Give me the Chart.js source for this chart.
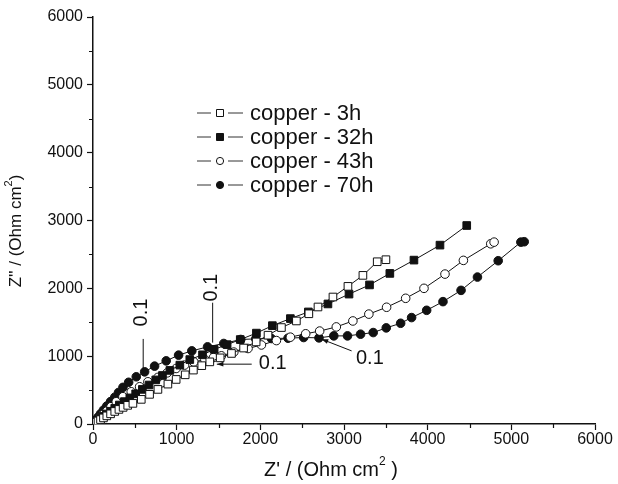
<!DOCTYPE html>
<html>
<head>
<meta charset="utf-8">
<script src="https://cdn.jsdelivr.net/npm/chart.js"></script>
<style>
  html, body { margin: 0; padding: 0; background: #fff; }
  canvas { display: block; }
</style>
</head>
<body>
<canvas id="chart" width="618" height="484"></canvas>
<script>
// series: Z' (real) and Z'' (imaginary), Ohm cm2
const labels = ['copper - 3h', 'copper - 32h', 'copper - 43h', 'copper - 70h'];

const re3h = [0, 15, 35, 60, 90, 125, 165, 210, 260, 310, 360, 415, 477, 577, 676, 776, 895, 994, 1102, 1200, 1300, 1396, 1520, 1655, 1800, 1950, 2092, 2252, 2431, 2580, 2689, 2868, 3047, 3226, 3397, 3501];
const im3h = [0, 12, 28, 45, 65, 90, 120, 150, 185, 215, 245, 275, 304, 363, 437, 510, 588, 657, 725, 795, 860, 916, 975, 1040, 1120, 1210, 1309, 1422, 1519, 1625, 1725, 1872, 2029, 2191, 2392, 2422];

const re32h = [0, 15, 35, 60, 90, 125, 165, 210, 260, 315, 375, 440, 510, 590, 670, 750, 830, 919, 1038, 1157, 1309, 1448, 1603, 1760, 1953, 2144, 2359, 2574, 2808, 3060, 3305, 3548, 3836, 4147, 4467];
const im32h = [0, 14, 32, 55, 82, 112, 148, 188, 232, 280, 330, 385, 445, 510, 575, 650, 715, 790, 868, 950, 1020, 1100, 1170, 1245, 1340, 1450, 1554, 1652, 1770, 1915, 2050, 2220, 2416, 2637, 2926];

const re43h = [0, 20, 45, 80, 120, 165, 215, 278, 358, 457, 557, 656, 776, 887, 994, 1094, 1205, 1337, 1440, 1535, 1683, 1853, 2013, 2192, 2359, 2542, 2709, 2908, 3106, 3297, 3509, 3737, 3956, 4207, 4427, 4754, 4794];
const im43h = [0, 25, 55, 95, 140, 190, 255, 328, 402, 475, 549, 622, 687, 754, 819, 868, 915, 950, 980, 1005, 1060, 1113, 1165, 1230, 1280, 1330, 1370, 1431, 1519, 1620, 1721, 1853, 2000, 2210, 2412, 2657, 2681];

const re70h = [0, 15, 35, 60, 90, 125, 165, 210, 260, 305, 358, 426, 517, 617, 736, 875, 1023, 1181, 1369, 1563, 1766, 1945, 2132, 2331, 2518, 2701, 2878, 3042, 3198, 3349, 3505, 3677, 3808, 3988, 4183, 4399, 4595, 4843, 5114, 5154];
const im70h = [0, 25, 60, 100, 150, 205, 265, 330, 395, 465, 540, 615, 696, 769, 853, 931, 1015, 1078, 1137, 1187, 1246, 1255, 1260, 1265, 1275, 1270, 1299, 1299, 1324, 1348, 1417, 1485, 1569, 1676, 1804, 1970, 2166, 2407, 2681, 2687];

const xTicks = [0, 1000, 2000, 3000, 4000, 5000, 6000];
const yTicks = [0, 1000, 2000, 3000, 4000, 5000, 6000];

// "0.1" frequency markers, in data units: text position, line start, line end
const freqNotes = [
  { text: '0.1', tx: 564, ty: 1643, rot: true,  x1: 600,  y1: 1254, x2: 600,  y2: 754,  arrow: false },
  { text: '0.1', tx: 1400, ty: 2009, rot: true, x1: 1430, y1: 1788, x2: 1430, y2: 1200, arrow: false },
  { text: '0.1', tx: 2148, ty: 906, rot: false, x1: 1897, y1: 882,  x2: 1480, y2: 882,  arrow: true },
  { text: '0.1', tx: 3309, ty: 979, rot: false, x1: 3091, y1: 1078, x2: 2733, y2: 1250, arrow: true }
];

const FONT = '"Liberation Sans", Arial, sans-serif';

function pts(xs, ys) {
  return xs.map((x, i) => ({ x: x, y: ys[i] }));
}

function series(label, xs, ys, style, filled) {
  return {
    label: label,
    data: pts(xs, ys),
    showLine: true,
    borderColor: '#111',
    borderWidth: 1,
    pointStyle: style,
    pointRadius: style === 'rect' ? 5.4 : 4.3,
    pointBorderWidth: 1,
    pointBorderColor: '#111',
    pointBackgroundColor: filled ? '#111' : '#fff',
    fill: false
  };
}

// draws "main" + superscript 2 + "tail", centred on (0,0) of the current transform
function supText(ctx, main, tail, size) {
  ctx.font = size + 'px ' + FONT;
  const w1 = ctx.measureText(main).width;
  const w3 = ctx.measureText(tail).width;
  ctx.font = Math.round(size * 0.62) + 'px ' + FONT;
  const w2 = ctx.measureText('2').width;
  let x = -(w1 + w2 + w3) / 2;
  ctx.textAlign = 'left';
  ctx.textBaseline = 'middle';
  ctx.font = size + 'px ' + FONT;
  ctx.fillText(main, x, 0);
  x += w1;
  ctx.font = Math.round(size * 0.62) + 'px ' + FONT;
  ctx.fillText('2', x, -size * 0.4);
  x += w2;
  ctx.font = size + 'px ' + FONT;
  ctx.fillText(tail, x, 0);
}

const decorPlugin = {
  id: 'decor',
  afterDraw(chart) {
    const ctx = chart.ctx;
    const xs = chart.scales.x, ys = chart.scales.y;
    ctx.save();
    ctx.fillStyle = '#111';
    ctx.strokeStyle = '#111';
    // minor ticks (shorter)
    ctx.lineWidth = 1.2;
    ctx.beginPath();
    for (let v = 500; v < 6000; v += 1000) {
      const px = Math.round(xs.getPixelForValue(v)) + 0.5;
      ctx.moveTo(px, xs.top); ctx.lineTo(px, xs.top + 4);
      const py = Math.round(ys.getPixelForValue(v)) + 0.5;
      ctx.moveTo(ys.right, py); ctx.lineTo(ys.right - 4, py);
    }
    ctx.stroke();
    // axis titles
    ctx.translate((xs.left + xs.right) / 2 - 13, 470);
    supText(ctx, "Z' / (Ohm cm", " )", 20);
    ctx.setTransform(1, 0, 0, 1, 0, 0);
    ctx.translate(16, 231);
    ctx.rotate(-Math.PI / 2);
    supText(ctx, "Z'' / (Ohm cm", ")", 17);
    ctx.restore();
  }
};

// legend drawn like the original: line - marker - line, then text
const legendPlugin = {
  id: 'lineLegend',
  afterDatasetsDraw(chart) {
    const ctx = chart.ctx;
    const rows = [113, 137, 161, 185];
    ctx.save();
    chart.data.datasets.forEach((ds, i) => {
      const y = rows[i];
      ctx.strokeStyle = '#333';
      ctx.lineWidth = 1;
      ctx.beginPath();
      ctx.moveTo(197, y); ctx.lineTo(211, y);
      ctx.moveTo(228, y); ctx.lineTo(243, y);
      ctx.stroke();
      ctx.fillStyle = ds.pointBackgroundColor;
      ctx.strokeStyle = '#111';
      ctx.beginPath();
      if (ds.pointStyle === 'rect') ctx.rect(216.5, y - 3.5, 7, 7);
      else ctx.arc(220, y, 3.6, 0, Math.PI * 2);
      ctx.fill(); ctx.stroke();
      ctx.fillStyle = '#111';
      ctx.font = '22px ' + FONT;
      ctx.textAlign = 'left';
      ctx.textBaseline = 'middle';
      ctx.fillText(ds.label, 250, y + 1);
    });
    ctx.restore();
  }
};

const notesPlugin = {
  id: 'freqNotes',
  afterDatasetsDraw(chart) {
    const ctx = chart.ctx;
    const xs = chart.scales.x, ys = chart.scales.y;
    ctx.save();
    ctx.strokeStyle = '#111';
    ctx.fillStyle = '#111';
    ctx.lineWidth = 1;
    freqNotes.forEach(n => {
      const x1 = xs.getPixelForValue(n.x1), y1 = ys.getPixelForValue(n.y1);
      const x2 = xs.getPixelForValue(n.x2), y2 = ys.getPixelForValue(n.y2);
      ctx.beginPath();
      ctx.moveTo(x1, y1); ctx.lineTo(x2, y2);
      ctx.stroke();
      if (n.arrow) {
        const a = Math.atan2(y2 - y1, x2 - x1);
        ctx.beginPath();
        ctx.moveTo(x2, y2);
        ctx.lineTo(x2 - 7 * Math.cos(a - 0.35), y2 - 7 * Math.sin(a - 0.35));
        ctx.lineTo(x2 - 7 * Math.cos(a + 0.35), y2 - 7 * Math.sin(a + 0.35));
        ctx.closePath();
        ctx.fill();
      }
      const tx = xs.getPixelForValue(n.tx), ty = ys.getPixelForValue(n.ty);
      ctx.font = '20px ' + FONT;
      ctx.textAlign = 'center';
      ctx.textBaseline = 'middle';
      ctx.translate(tx, ty);
      if (n.rot) ctx.rotate(-Math.PI / 2);
      ctx.fillText(n.text, 0, 1);
      ctx.setTransform(1, 0, 0, 1, 0, 0);
    });
    ctx.restore();
  }
};

const axisCommon = {
  type: 'linear',
  min: 0,
  max: 6000,
  border: { display: true, color: '#111', width: 1.5 },
  grid: {
    drawOnChartArea: false, drawTicks: true, tickLength: 6, tickWidth: 1.2,
    tickColor: c => (c.tick && c.tick.value % 1000 === 0 ? '#111' : 'rgba(0,0,0,0)')
  },
  ticks: {
    stepSize: 500,
    autoSkip: false,
    color: '#111',
    font: { family: FONT, size: 16 },
    callback: v => (v % 1000 === 0 ? String(v) : '')
  }
};

new Chart(document.getElementById('chart'), {
  type: 'scatter',
  data: {
    datasets: [
      series(labels[0], re3h, im3h, 'rect', false),
      series(labels[1], re32h, im32h, 'rect', true),
      series(labels[2], re43h, im43h, 'circle', false),
      series(labels[3], re70h, im70h, 'circle', true)
    ]
  },
  options: {
    responsive: false,
    animation: false,
    devicePixelRatio: 1,
    layout: { padding: { top: 17, right: 23, left: 0, bottom: 0 } },
    plugins: { legend: { display: false }, tooltip: { enabled: false } },
    scales: {
      x: Object.assign({}, axisCommon, {
        position: 'bottom',
        ticks: Object.assign({}, axisCommon.ticks, { padding: 0 }),
        afterFit: s => { s.height = 60; }
      }),
      y: Object.assign({}, axisCommon, {
        position: 'left',
        ticks: Object.assign({}, axisCommon.ticks, { padding: 4 }),
        afterFit: s => { s.width = 93; }
      })
    }
  },
  plugins: [legendPlugin, notesPlugin, decorPlugin]
});
</script>
</body>
</html>
